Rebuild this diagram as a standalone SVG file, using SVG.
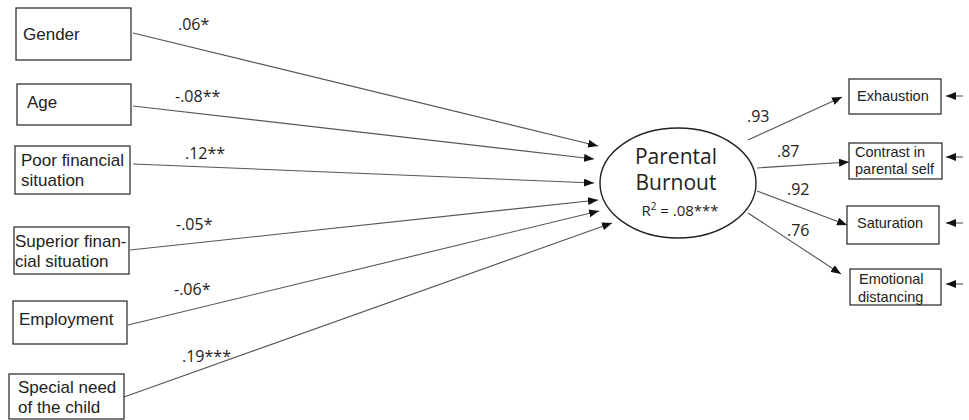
<svg xmlns="http://www.w3.org/2000/svg" width="969" height="420" viewBox="0 0 969 420">
<style>
.box{fill:#fff;stroke:#333;stroke-width:1.3}
.t{font-family:"Liberation Sans",Arial,sans-serif;font-size:17px;fill:#222}
.e{font-family:"Open Sans","Liberation Sans",sans-serif;font-size:16px;fill:#222}
.s{font-family:"Liberation Sans",Arial,sans-serif;font-size:14.5px;fill:#222}
.c{stroke:#555;stroke-width:1.1;fill:none;marker-end:url(#ah)}
</style>
<defs>
<marker id="ah" viewBox="0 0 10 8" refX="10" refY="4" markerWidth="10" markerHeight="8" markerUnits="userSpaceOnUse" orient="auto">
<path d="M0,0 L10,4 L0,8 Z" fill="#111"/>
</marker>
</defs>
<rect width="969" height="420" fill="#fff"/>
<g id="connectors">
<line class="c" x1="133" y1="33" x2="598" y2="146"/>
<line class="c" x1="133" y1="106" x2="594" y2="159"/>
<line class="c" x1="133" y1="164" x2="594" y2="183"/>
<line class="c" x1="130" y1="250" x2="598" y2="200"/>
<line class="c" x1="128" y1="325" x2="599" y2="211"/>
<line class="c" x1="124" y1="397" x2="612" y2="223"/>
<line class="c" x1="748" y1="140" x2="842" y2="97"/>
<line class="c" x1="757" y1="168" x2="849" y2="162"/>
<line class="c" x1="757" y1="191" x2="847" y2="225"/>
<line class="c" x1="748" y1="213" x2="841" y2="274"/>
<line class="c" x1="963" y1="96" x2="946" y2="96"/>
<line class="c" x1="963" y1="157" x2="946" y2="157"/>
<line class="c" x1="963" y1="223" x2="946" y2="223"/>
<line class="c" x1="963" y1="284" x2="946" y2="284"/>
<text class="e" x="178" y="30">.06*</text>
<text class="e" x="175" y="102">-.08**</text>
<text class="e" x="185" y="159">.12**</text>
<text class="e" x="176" y="230">-.05*</text>
<text class="e" x="174" y="295">-.06*</text>
<text class="e" x="182" y="362">.19***</text>
<text class="e" x="747" y="122">.93</text>
<text class="e" x="777" y="157">.87</text>
<text class="e" x="787" y="195">.92</text>
<text class="e" x="787" y="236">.76</text>
</g>
<g id="gender"><rect class="box" x="16" y="8" width="115" height="52"/><text class="t" x="23" y="40">Gender</text></g>
<g id="age"><rect class="box" x="17" y="84" width="114" height="41"/><text class="t" x="27" y="108">Age</text></g>
<g id="poor"><rect class="box" x="15" y="146" width="115" height="48"/><text class="t" x="21" y="166">Poor financial</text><text class="t" x="21" y="185.5">situation</text></g>
<g id="superior"><rect class="box" x="14" y="227" width="115" height="47"/><text class="t" x="15" y="247">Superior finan-</text><text class="t" x="15" y="266.5">cial situation</text></g>
<g id="employment"><rect class="box" x="13" y="301" width="114" height="43"/><text class="t" x="19" y="325">Employment</text></g>
<g id="special"><rect class="box" x="9" y="374" width="115" height="45"/><text class="t" x="18" y="393">Special need</text><text class="t" x="18" y="412.5">of the child</text></g>
<g id="burnout"><ellipse cx="678" cy="183" rx="78" ry="55" fill="#fff" stroke="#222" stroke-width="1.4"/>
<text class="e" x="676" y="164" text-anchor="middle" style="font-size:21px">Parental</text>
<text class="e" x="676" y="190" text-anchor="middle" style="font-size:21px">Burnout</text>
<text class="e" x="680" y="216" text-anchor="middle" style="font-size:15px">R<tspan dy="-6" style="font-size:10px">2</tspan><tspan dy="6"> = .08***</tspan></text></g>
<g id="exhaustion"><rect class="box" x="849" y="79" width="92" height="35"/><text class="s" x="857" y="101">Exhaustion</text></g>
<g id="contrast"><rect class="box" x="849" y="143" width="93" height="36"/><text class="s" x="855" y="157">Contrast in</text><text class="s" x="855" y="174">parental self</text></g>
<g id="saturation"><rect class="box" x="847" y="206" width="92" height="38"/><text class="s" x="857" y="228">Saturation</text></g>
<g id="emotional"><rect class="box" x="850" y="269" width="91" height="36"/><text class="s" x="859" y="284">Emotional</text><text class="s" x="858" y="301.5">distancing</text></g>
</svg>
